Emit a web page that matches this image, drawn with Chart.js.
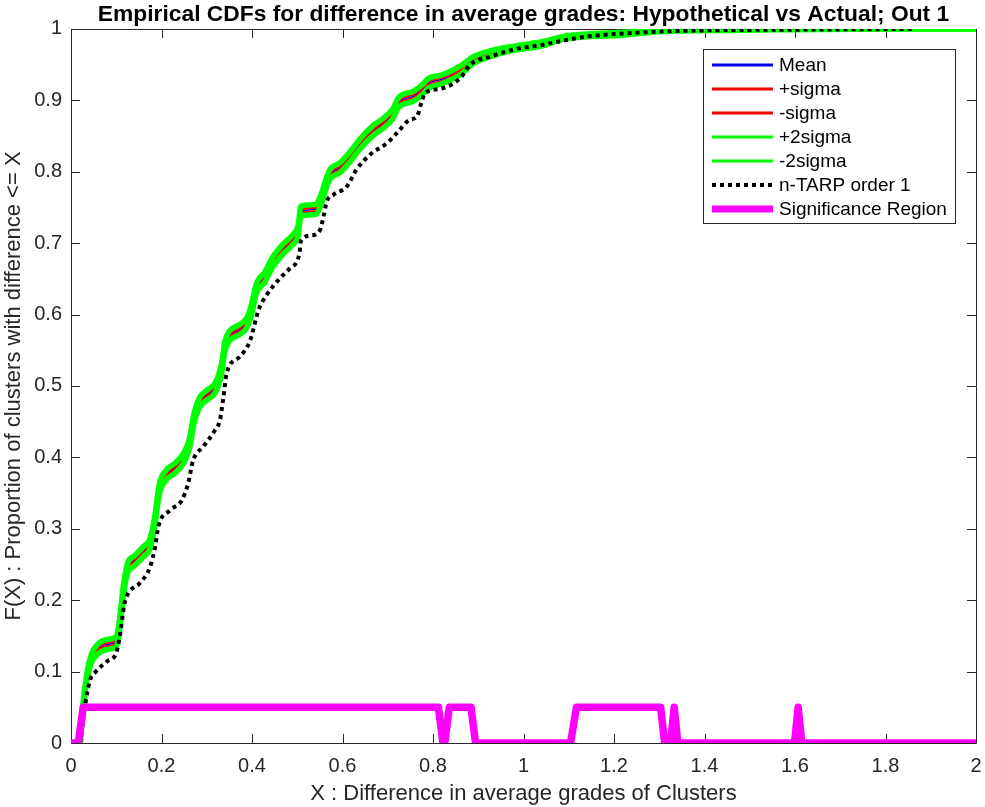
<!DOCTYPE html>
<html><head><meta charset="utf-8">
<script src="https://cdn.jsdelivr.net/npm/chart.js@4/dist/chart.umd.min.js"></script>
<style>html,body{margin:0;padding:0;background:#fff;} canvas{display:block;}</style>
</head><body>
<canvas id="c" width="985" height="807"></canvas>
<script>
const titleText = "Empirical CDFs for difference in average grades: Hypothetical vs Actual; Out 1";
const xAxisLabel = "X : Difference in average grades of Clusters";
const yAxisLabel = "F(X) : Proportion of clusters with difference <= X";
const seriesNames = ["Mean", "+sigma", "-sigma", "+2sigma", "-2sigma", "n-TARP order 1", "Significance Region"];

const xTicks = [0, 0.2, 0.4, 0.6, 0.8, 1, 1.2, 1.4, 1.6, 1.8, 2];
const xTickLabels = ["0", "0.2", "0.4", "0.6", "0.8", "1", "1.2", "1.4", "1.6", "1.8", "2"];
const yTicks = [0, 0.1, 0.2, 0.3, 0.4, 0.5, 0.6, 0.7, 0.8, 0.9, 1];
const yTickLabels = ["0", "0.1", "0.2", "0.3", "0.4", "0.5", "0.6", "0.7", "0.8", "0.9", "1"];

// shared X grid of the simulated CDFs
const cdfX = [0.000, 0.020, 0.026, 0.035, 0.045, 0.060, 0.080, 0.100, 0.108, 0.115, 0.125, 0.140, 0.160, 0.175, 0.185, 0.195, 0.210, 0.230, 0.250, 0.262, 0.272, 0.285, 0.300, 0.320, 0.333, 0.340, 0.350, 0.370, 0.388, 0.398, 0.410, 0.428, 0.446, 0.466, 0.490, 0.502, 0.508, 0.540, 0.552, 0.562, 0.572, 0.595, 0.618, 0.640, 0.668, 0.690, 0.712, 0.724, 0.757, 0.778, 0.788, 0.822, 0.860, 0.888, 0.930, 0.970, 1.040, 1.090, 1.140, 1.210, 1.300, 1.450, 1.600, 1.800, 2.000];
const meanY = [0, 0, 0.050, 0.092, 0.118, 0.132, 0.138, 0.142, 0.170, 0.210, 0.245, 0.255, 0.268, 0.280, 0.310, 0.355, 0.375, 0.385, 0.400, 0.420, 0.455, 0.478, 0.487, 0.499, 0.525, 0.555, 0.570, 0.578, 0.588, 0.605, 0.637, 0.652, 0.674, 0.690, 0.705, 0.718, 0.745, 0.747, 0.760, 0.780, 0.796, 0.806, 0.822, 0.840, 0.858, 0.868, 0.882, 0.897, 0.906, 0.916, 0.923, 0.930, 0.942, 0.956, 0.966, 0.972, 0.979, 0.988, 0.991, 0.993, 0.997, 0.999, 0.999, 1, 1];
const sigmaUpY = [0, 0, 0.051, 0.094, 0.120, 0.135, 0.141, 0.145, 0.173, 0.213, 0.248, 0.258, 0.271, 0.283, 0.313, 0.358, 0.378, 0.388, 0.403, 0.423, 0.458, 0.481, 0.490, 0.502, 0.528, 0.558, 0.573, 0.581, 0.591, 0.608, 0.640, 0.655, 0.677, 0.693, 0.708, 0.721, 0.748, 0.750, 0.763, 0.783, 0.799, 0.809, 0.825, 0.843, 0.861, 0.871, 0.885, 0.900, 0.909, 0.919, 0.926, 0.933, 0.944, 0.958, 0.968, 0.973, 0.980, 0.989, 0.992, 0.994, 0.997, 0.999, 1, 1, 1];
const sigmaLoY = [0, 0, 0.049, 0.090, 0.116, 0.129, 0.135, 0.139, 0.167, 0.207, 0.242, 0.252, 0.265, 0.277, 0.307, 0.352, 0.372, 0.382, 0.397, 0.417, 0.452, 0.475, 0.484, 0.496, 0.522, 0.552, 0.567, 0.575, 0.585, 0.602, 0.634, 0.649, 0.671, 0.687, 0.702, 0.715, 0.742, 0.744, 0.757, 0.777, 0.793, 0.803, 0.819, 0.837, 0.855, 0.865, 0.879, 0.894, 0.903, 0.913, 0.920, 0.927, 0.940, 0.954, 0.964, 0.971, 0.978, 0.987, 0.990, 0.992, 0.997, 0.999, 0.999, 1, 1];
const sigma2UpY = [0, 0, 0.053, 0.097, 0.124, 0.139, 0.145, 0.149, 0.177, 0.217, 0.252, 0.262, 0.275, 0.287, 0.317, 0.362, 0.382, 0.392, 0.407, 0.427, 0.462, 0.485, 0.494, 0.506, 0.532, 0.562, 0.577, 0.585, 0.595, 0.612, 0.644, 0.659, 0.681, 0.697, 0.712, 0.725, 0.752, 0.754, 0.767, 0.787, 0.803, 0.813, 0.829, 0.847, 0.865, 0.875, 0.889, 0.904, 0.913, 0.923, 0.930, 0.936, 0.948, 0.961, 0.970, 0.975, 0.982, 0.990, 0.993, 0.995, 0.998, 1, 1, 1, 1];
const sigma2LoY = [0, 0, 0.047, 0.087, 0.112, 0.125, 0.131, 0.135, 0.163, 0.203, 0.238, 0.248, 0.261, 0.273, 0.303, 0.348, 0.368, 0.378, 0.393, 0.413, 0.448, 0.471, 0.480, 0.492, 0.518, 0.548, 0.563, 0.571, 0.581, 0.598, 0.630, 0.645, 0.667, 0.683, 0.698, 0.711, 0.738, 0.740, 0.753, 0.773, 0.789, 0.799, 0.815, 0.833, 0.851, 0.861, 0.875, 0.890, 0.899, 0.909, 0.916, 0.924, 0.936, 0.951, 0.962, 0.969, 0.976, 0.986, 0.989, 0.991, 0.996, 0.998, 0.999, 1, 1];

// n-TARP order 1 CDF
const tarpX = [0.020, 0.031, 0.042, 0.055, 0.079, 0.100, 0.108, 0.118, 0.127, 0.152, 0.175, 0.186, 0.193, 0.219, 0.245, 0.259, 0.270, 0.292, 0.318, 0.329, 0.337, 0.344, 0.373, 0.396, 0.410, 0.414, 0.432, 0.462, 0.484, 0.505, 0.508, 0.532, 0.550, 0.558, 0.565, 0.580, 0.609, 0.631, 0.661, 0.698, 0.720, 0.749, 0.764, 0.775, 0.782, 0.815, 0.860, 0.882, 0.926, 0.977, 1.044, 1.090, 1.150, 1.290, 1.400, 1.600, 1.860];
const tarpY = [0, 0.052, 0.088, 0.100, 0.114, 0.126, 0.150, 0.195, 0.210, 0.224, 0.247, 0.275, 0.303, 0.326, 0.340, 0.364, 0.396, 0.415, 0.438, 0.452, 0.485, 0.518, 0.541, 0.564, 0.597, 0.606, 0.627, 0.651, 0.665, 0.686, 0.703, 0.711, 0.718, 0.737, 0.758, 0.768, 0.779, 0.803, 0.824, 0.840, 0.854, 0.873, 0.877, 0.898, 0.910, 0.916, 0.931, 0.950, 0.961, 0.971, 0.978, 0.984, 0.990, 0.996, 0.998, 0.999, 1];

// significance region indicator
const sigRegionX = [0, 0.016, 0.027, 0.812, 0.822, 0.826, 0.836, 0.884, 0.894, 1.104, 1.117, 1.303, 1.312, 1.325, 1.333, 1.341, 1.599, 1.607, 1.615, 2];
const sigRegionY = [0, 0, 0.05, 0.05, 0, 0, 0.05, 0.05, 0, 0, 0.05, 0.05, 0, 0, 0.05, 0, 0, 0.05, 0, 0];

const FONT = "'Liberation Sans', Arial, Helvetica, sans-serif";
const AX = '#262626';

const pts = (xs, ys) => xs.map((x, i) => ({x: x, y: ys[i]}));

const cdfStyle = {pointRadius: 0, cubicInterpolationMode: 'monotone', fill: false, borderJoinStyle: 'round', borderCapStyle: 'round'};

const datasets = [
  Object.assign({label: seriesNames[0], data: pts(cdfX, meanY), borderColor: '#0000FF', borderWidth: 1.5, order: 6, legendWidth: 3}, cdfStyle),
  Object.assign({label: seriesNames[1], data: pts(cdfX, sigmaUpY), borderColor: '#FF0000', borderWidth: 3, order: 5, legendWidth: 3}, cdfStyle),
  Object.assign({label: seriesNames[2], data: pts(cdfX, sigmaLoY), borderColor: '#FF0000', borderWidth: 3, order: 4, legendWidth: 3}, cdfStyle),
  Object.assign({label: seriesNames[3], data: pts(cdfX, sigma2UpY), borderColor: '#00FF00', borderWidth: 5.5, order: 3, legendWidth: 3}, cdfStyle),
  Object.assign({label: seriesNames[4], data: pts(cdfX, sigma2LoY), borderColor: '#00FF00', borderWidth: 5.5, order: 2, legendWidth: 3}, cdfStyle),
  {label: seriesNames[5], data: pts(tarpX, tarpY), borderColor: '#000000', borderWidth: 4, borderDash: [4, 4], borderCapStyle: 'butt', pointRadius: 0, cubicInterpolationMode: 'monotone', fill: false, order: 1, legendWidth: 4},
  {label: seriesNames[6], data: pts(sigRegionX, sigRegionY), borderColor: '#FF00FF', borderWidth: 7.5, borderJoinStyle: 'round', borderCapStyle: 'round', pointRadius: 0, tension: 0, fill: false, order: 0, legendWidth: 7}
];

const framePlugin = {
  id: 'frameTicks',
  beforeDatasetsDraw(chart) {
    const {ctx, chartArea: a, scales: {x, y}} = chart;
    ctx.save();
    ctx.strokeStyle = AX;
    ctx.lineWidth = 1;
    ctx.beginPath();
    ctx.rect(Math.round(a.left) + 0.5, Math.round(a.top) + 0.5, Math.round(a.right - a.left), Math.round(a.bottom - a.top));
    ctx.stroke();
    const L = 9;
    ctx.beginPath();
    xTicks.forEach(v => {
      const px = Math.round(x.getPixelForValue(v)) + 0.5;
      ctx.moveTo(px, a.bottom); ctx.lineTo(px, a.bottom - L);
      ctx.moveTo(px, a.top); ctx.lineTo(px, a.top + L);
    });
    yTicks.forEach(v => {
      const py = Math.round(y.getPixelForValue(v)) + 0.5;
      ctx.moveTo(a.left, py); ctx.lineTo(a.left + L, py);
      ctx.moveTo(a.right, py); ctx.lineTo(a.right - L, py);
    });
    ctx.stroke();
    ctx.restore();
  }
};

const legendPlugin = {
  id: 'insideLegend',
  afterDraw(chart) {
    const {ctx, chartArea: a} = chart;
    const w = 252, h = 174;
    const right = a.right - 21, top = a.top + 20;
    const left = right - w;
    ctx.save();
    ctx.fillStyle = '#FFFFFF';
    ctx.fillRect(left, top, w, h);
    ctx.strokeStyle = AX;
    ctx.lineWidth = 1;
    ctx.strokeRect(Math.round(left) + 0.5, Math.round(top) + 0.5, w, h);
    ctx.font = "19px " + FONT;
    ctx.textBaseline = 'middle';
    ctx.textAlign = 'left';
    chart.data.datasets.forEach((ds, i) => {
      const cy = top + 16 + i * 24;
      ctx.save();
      ctx.strokeStyle = ds.borderColor;
      ctx.lineWidth = ds.legendWidth;
      ctx.setLineDash(ds.borderDash || []);
      ctx.lineCap = 'butt';
      ctx.beginPath();
      ctx.moveTo(left + 9, cy);
      ctx.lineTo(left + 70, cy);
      ctx.stroke();
      ctx.restore();
      ctx.fillStyle = '#000000';
      ctx.fillText(ds.label, left + 76, cy + 1);
    });
    ctx.restore();
  }
};

new Chart(document.getElementById('c'), {
  type: 'line',
  data: {datasets: datasets},
  options: {
    responsive: false,
    animation: false,
    devicePixelRatio: 1,
    layout: {padding: {left: 0, right: 9, top: 0, bottom: 0}},
    plugins: {
      legend: {display: false},
      tooltip: {enabled: false},
      title: {display: true, text: titleText, fullSize: false, color: '#000000',
        font: {family: FONT, size: 22.8, weight: 'bold', lineHeight: 1.2}, padding: {top: 1, bottom: 0.6}}
    },
    scales: {
      x: {
        type: 'linear', min: 0, max: 2,
        afterBuildTicks: s => { s.ticks = xTicks.map(v => ({value: v})); },
        afterFit: s => { s.height = 64; s.paddingLeft = 0; s.paddingRight = 0; },
        grid: {display: false, drawTicks: false},
        border: {display: false},
        ticks: {autoSkip: false, maxRotation: 0, padding: 11, color: AX, font: {family: FONT, size: 20},
          callback: (v, i) => xTickLabels[i]},
        title: {display: true, text: xAxisLabel, color: AX, font: {family: FONT, size: 22}, padding: {top: 0, bottom: 0}}
      },
      y: {
        type: 'linear', min: 0, max: 1,
        afterBuildTicks: s => { s.ticks = yTicks.map(v => ({value: v})); },
        afterFit: s => { s.width = 71; },
        grid: {display: false, drawTicks: false},
        border: {display: false},
        ticks: {autoSkip: false, padding: 9, color: AX, font: {family: FONT, size: 20},
          callback: (v, i) => yTickLabels[i]},
        title: {display: true, text: yAxisLabel, color: AX, font: {family: FONT, size: 22}, padding: {top: 1, bottom: 0}}
      }
    }
  },
  plugins: [framePlugin, legendPlugin]
});
</script>
</body></html>
